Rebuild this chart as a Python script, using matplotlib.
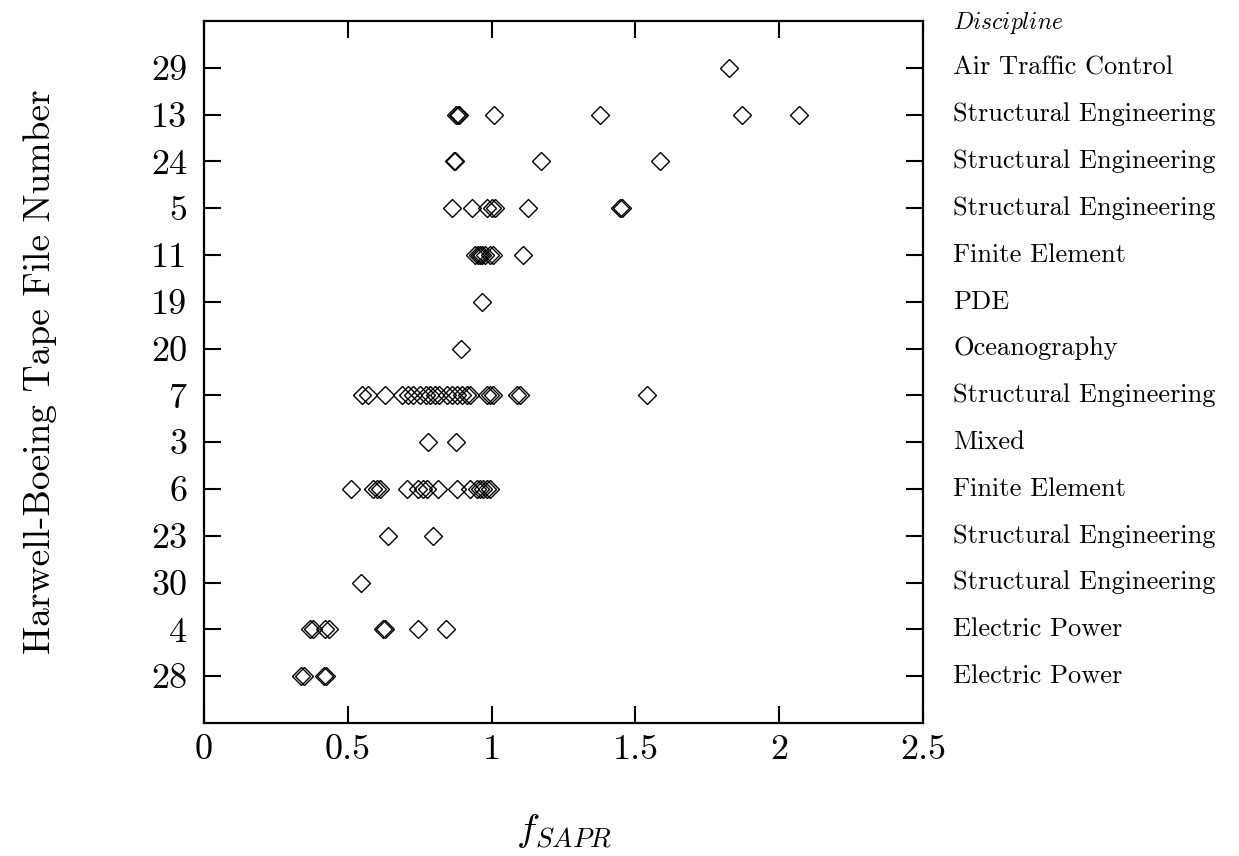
import numpy as np
import matplotlib
matplotlib.use("Agg")
import matplotlib.pyplot as plt
import matplotlib.transforms as mtransforms

plt.rcParams['font.family'] = ['cmr10', 'DejaVu Serif']
plt.rcParams['mathtext.fontset'] = 'cm'
plt.rcParams['axes.formatter.use_mathtext'] = True

# rows from top to bottom
file_numbers = ['29', '13', '24', '5', '11', '19', '20', '7', '3', '6', '23', '30', '4', '28']
disciplines = ['Air Traffic Control', 'Structural Engineering', 'Structural Engineering',
               'Structural Engineering', 'Finite Element', 'PDE', 'Oceanography',
               'Structural Engineering', 'Mixed', 'Finite Element', 'Structural Engineering',
               'Structural Engineering', 'Electric Power', 'Electric Power']

f29 = [1.826]
f13 = [0.876, 0.882, 0.888, 1.007, 1.378, 1.872, 2.070]
f24 = [0.868, 0.874, 1.171, 1.585]
f5 = [0.861, 0.931, 0.983, 1.000, 1.012, 1.128, 1.447, 1.452]
f11 = [0.942, 0.954, 0.960, 0.966, 0.977, 0.994, 1.006, 1.110]
f19 = [0.967]
f20 = [0.895]
f7 = [0.548, 0.571, 0.629, 0.687, 0.710, 0.728, 0.751, 0.772, 0.786, 0.803, 0.818,
      0.844, 0.861, 0.879, 0.896, 0.914, 0.925, 0.983, 0.995, 1.006, 1.087, 1.099, 1.540]
f3 = [0.778, 0.875]
f6 = [0.510, 0.589, 0.600, 0.612, 0.705, 0.745, 0.763, 0.774, 0.815, 0.879, 0.925,
      0.948, 0.960, 0.971, 0.983, 0.994]
f23 = [0.640, 0.796]
f30 = [0.547]
f4 = [0.367, 0.380, 0.421, 0.433, 0.622, 0.630, 0.745, 0.842]
f28 = [0.336, 0.348, 0.417, 0.425]

rows = [f29, f13, f24, f5, f11, f19, f20, f7, f3, f6, f23, f30, f4, f28]

fig = plt.figure(figsize=(12.39, 8.56), dpi=100)
ax = fig.add_axes([0.1647, 0.1554, 0.5803, 0.8201])

n = len(rows)
for i, vals in enumerate(rows):
    ypos = n - i
    ax.plot(vals, [ypos] * len(vals), linestyle='none', marker='D', markersize=8.8,
            markerfacecolor='none', markeredgecolor='black', markeredgewidth=1.0)

ax.set_xlim(0, 2.5)
ax.set_ylim(0, n + 1)
ax.set_xticks([0, 0.5, 1, 1.5, 2, 2.5])
ax.set_xticklabels(['0', '0.5', '1', '1.5', '2', '2.5'])
ax.set_yticks(np.arange(n, 0, -1))
ax.set_yticklabels(file_numbers)
ax.tick_params(direction='in', length=12, width=1.5, labelsize=26, pad=12,
               top=True, right=True)
ax.tick_params(axis='x', pad=8)
for s in ax.spines.values():
    s.set_linewidth(1.6)

ax.set_ylabel('Harwell-Boeing Tape File Number', fontsize=27, labelpad=68)
ax.set_xlabel(r'$f_{SAPR}$', fontsize=28, labelpad=34)

trans = mtransforms.blended_transform_factory(ax.transAxes, ax.transData)
for i, d in enumerate(disciplines):
    ax.text(1.0417, n - i, d, transform=trans, fontsize=19, va='center', ha='left')
ax.text(1.0417, n + 0.96, r'$Discipline$', transform=trans, fontsize=17,
        va='center', ha='left')

fig.savefig('out.png', dpi=100)
